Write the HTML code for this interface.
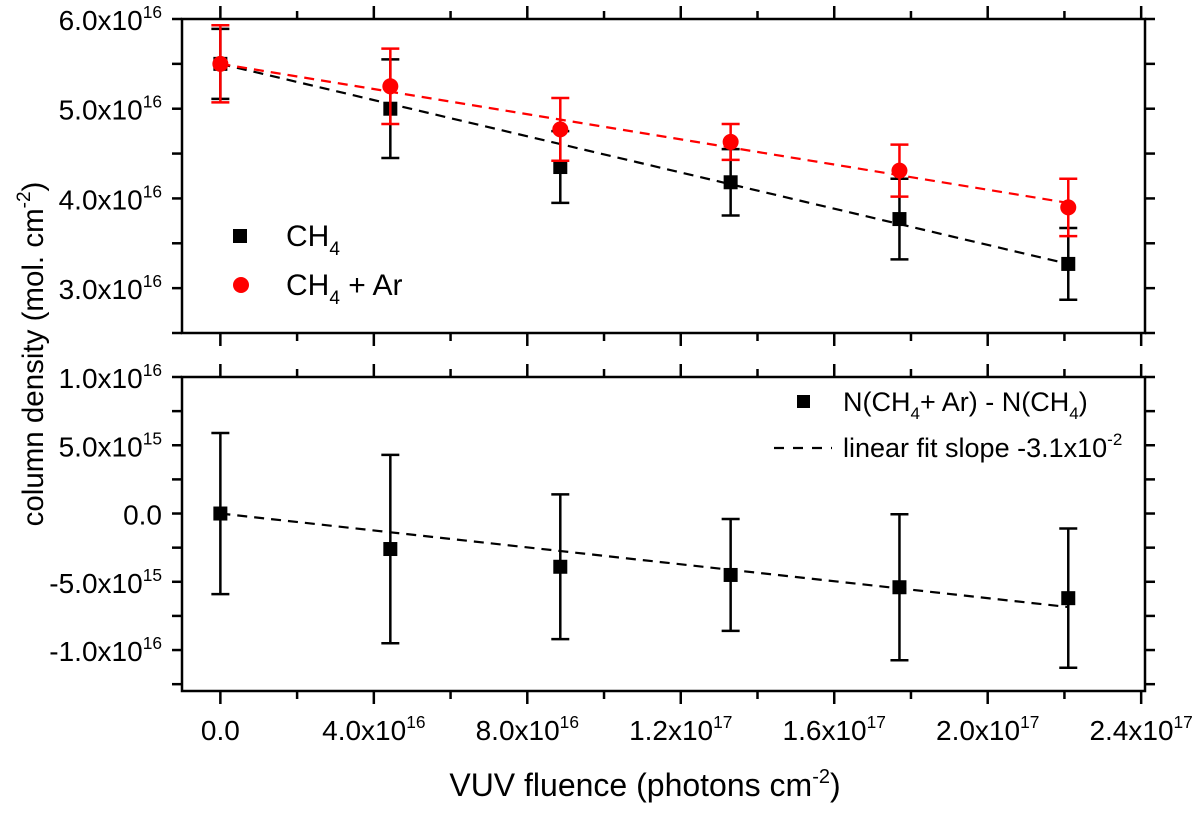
<!DOCTYPE html>
<html><head><meta charset="utf-8"><style>
body{margin:0;background:#fff;}
svg text{font-family:"Liberation Sans",Arial,sans-serif;fill:#000;}
</style></head><body>
<svg id="chart" width="1200" height="808" viewBox="0 0 1200 808" xmlns="http://www.w3.org/2000/svg"></svg>
<script>
const fluence = [0, 4.43, 8.86, 13.3, 17.7, 22.1]; // x 1e16
const ch4 = [5.5, 5.0, 4.35, 4.18, 3.77, 3.27]; // 1e16
const ch4Err = [0.39, 0.55, 0.4, 0.37, 0.45, 0.4];
const ch4Ar = [5.5, 5.25, 4.77, 4.63, 4.31, 3.9];
const ch4ArErr = [0.43, 0.42, 0.35, 0.2, 0.29, 0.32];
const ch4Fit = [5.5, 3.27];
const ch4ArFit = [5.5, 3.95];
const diff = [0, -2.6, -3.9, -4.5, -5.4, -6.2]; // 1e15
const diffErr = [5.9, 6.9, 5.3, 4.1, 5.35, 5.1];
const diffFit = [0, -6.85];
const xTicks = [0, 4, 8, 12, 16, 20, 24];
const xTickLabels = ["0.0","4.0x10|16","8.0x10|16","1.2x10|17","1.6x10|17","2.0x10|17","2.4x10|17"];
const topTicks = [3, 4, 5, 6];
const topTickLabels = ["3.0x10|16","4.0x10|16","5.0x10|16","6.0x10|16"];
const botTicks = [-10, -5, 0, 5, 10];
const botTickLabels = ["-1.0x10|16","-5.0x10|15","0.0","5.0x10|15","1.0x10|16"];

const svg = document.getElementById('chart');
const NS = 'http://www.w3.org/2000/svg';
const L = 182, R = 1145, XMIN = -1, XMAX = 24.1;
const T1 = 19, B1 = 333, Y1MIN = 2.5, Y1MAX = 6.0;
const T2 = 377, B2 = 691, Y2MIN = -13, Y2MAX = 10;
const xs = v => L + (v - XMIN) / (XMAX - XMIN) * (R - L);
const y1 = v => B1 - (v - Y1MIN) / (Y1MAX - Y1MIN) * (B1 - T1);
const y2 = v => B2 - (v - Y2MIN) / (Y2MAX - Y2MIN) * (B2 - T2);
function mk(tag, attrs, parent) {
  const e = document.createElementNS(NS, tag);
  for (const k in attrs) e.setAttribute(k, attrs[k]);
  (parent || svg).appendChild(e);
  return e;
}
function label(txt, x, y, anchor, size, name) {
  const parts = txt.split('|');
  const t = mk('text', {x: x, y: y, 'font-size': size, 'text-anchor': anchor});
  
  
  t.appendChild(document.createTextNode(parts[0]));
  if (parts[1]) {
    const s = mk('tspan', {dy: -12, 'font-size': size * 0.62}, t);
    s.textContent = parts[1];
  }
  return t;
}
function panel(T, B, yf, ymin, ymax, yTicks, yLabels, minorStep, name) {
  const g = mk('g', {});
  
  
  mk('rect', {x: L, y: T, width: R - L, height: B - T, fill: 'none', stroke: '#000', 'stroke-width': 2.5}, g);
  for (let v = 0; v <= 24; v += 2) {
    const len = v % 4 === 0 ? 13 : 8, x = xs(v);
    mk('line', {x1: x, x2: x, y1: T, y2: T - len, stroke: '#000', 'stroke-width': 2.5}, g);
    mk('line', {x1: x, x2: x, y1: B, y2: B + len, stroke: '#000', 'stroke-width': 2.5}, g);
  }
  for (let v = Math.ceil(ymin / minorStep) * minorStep; v <= ymax + 1e-9; v += minorStep) {
    const y = yf(v);
    mk('line', {x1: L, x2: L - 10, y1: y, y2: y, stroke: '#000', 'stroke-width': 2.5}, g);
    mk('line', {x1: R, x2: R + 10, y1: y, y2: y, stroke: '#000', 'stroke-width': 2.5}, g);
  }
  yTicks.forEach((v, i) => {
    const t = label(yLabels[i], L - 20, yf(v) + 11, 'end', 28, 'y-tick-label');
    g.appendChild(t);
  });
  return g;
}
function errbars(xv, yv, ev, yf, color, cap, name) {
  xv.forEach((xx, i) => {
    const x = xs(xx), yt = yf(yv[i] + ev[i]), yb = yf(yv[i] - ev[i]);
    const g = mk('g', {stroke: color, 'stroke-width': 2.5});
    
    
    mk('line', {x1: x, x2: x, y1: yt, y2: yb}, g);
    mk('line', {x1: x - cap, x2: x + cap, y1: yt, y2: yt}, g);
    mk('line', {x1: x - cap, x2: x + cap, y1: yb, y2: yb}, g);
  });
}
function fit(f, yf, color, name) {
  const l = mk('line', {x1: xs(fluence[0]), y1: yf(f[0]), x2: xs(fluence[5]), y2: yf(f[1]), stroke: color, 'stroke-width': 2.2, 'stroke-dasharray': '10,7'});
  
  
}
function squares(yv, yf, name) {
  yv.forEach((v, i) => {
    const r = mk('rect', {x: xs(fluence[i]) - 7, y: yf(v) - 7, width: 14, height: 14, fill: '#000'});
    
    
  });
}
function circles(yv, yf, name) {
  yv.forEach((v, i) => {
    const c = mk('circle', {cx: xs(fluence[i]), cy: yf(v), r: 8, fill: '#f00'});
    
    
  });
}
panel(T1, B1, y1, Y1MIN, Y1MAX, topTicks, topTickLabels, 0.5, 'top-panel');
panel(T2, B2, y2, Y2MIN, Y2MAX, botTicks, botTickLabels, 2.5, 'bottom-panel');

fit(ch4Fit, y1, '#000', 'ch4-fit-line');
fit(ch4ArFit, y1, '#f00', 'ch4-ar-fit-line');
errbars(fluence, ch4, ch4Err, y1, '#000', 9, 'ch4-error-bar');
squares(ch4, y1, 'ch4-point');
errbars(fluence, ch4Ar, ch4ArErr, y1, '#f00', 9, 'ch4-ar-error-bar');
circles(ch4Ar, y1, 'ch4-ar-point');
fit(diffFit, y2, '#000', 'diff-fit-line');
errbars(fluence, diff, diffErr, y2, '#000', 9, 'diff-error-bar');
squares(diff, y2, 'diff-point');

xTicks.forEach((v, i) => label(xTickLabels[i], xs(v), 740, 'middle', 28, 'x-tick-label'));

let r = mk('rect', {x: 233, y: 229, width: 14, height: 14, fill: '#000'});
 
let t = mk('text', {x: 286, y: 246, 'font-size': 30});
 
t.innerHTML = 'CH<tspan dy="9" font-size="19">4</tspan>';
let c = mk('circle', {cx: 241, cy: 285, r: 8, fill: '#f00'});
 
t = mk('text', {x: 286, y: 295, 'font-size': 30});
 
t.innerHTML = 'CH<tspan dy="9" font-size="19">4</tspan><tspan dy="-9"> + Ar</tspan>';
r = mk('rect', {x: 797, y: 395, width: 13, height: 13, fill: '#000'});
 
t = mk('text', {x: 843, y: 411, 'font-size': 27});
 
t.innerHTML = 'N(CH<tspan dy="8" font-size="17">4</tspan><tspan dy="-8">+ Ar) - N(CH</tspan><tspan dy="8" font-size="17">4</tspan><tspan dy="-8">)</tspan>';
let l = mk('line', {x1: 774, x2: 832, y1: 448, y2: 448, stroke: '#000', 'stroke-width': 2.2, 'stroke-dasharray': '10,9'});
 
t = mk('text', {x: 843, y: 457, 'font-size': 27});
 
t.innerHTML = 'linear fit slope -3.1x10<tspan dy="-12" font-size="17">-2</tspan>';

t = mk('text', {x: 645, y: 796, 'font-size': 32, 'text-anchor': 'middle'});
 
t.innerHTML = 'VUV fluence (photons cm<tspan dy="-13" font-size="20">-2</tspan><tspan dy="13">)</tspan>';
t = mk('text', {x: 0, y: 0, 'font-size': 29.5, 'text-anchor': 'middle', transform: 'translate(43,354) rotate(-90)'});
 
t.innerHTML = 'column density (mol. cm<tspan dy="-13" font-size="19">-2</tspan><tspan dy="13">)</tspan>';
</script>
</body></html>
